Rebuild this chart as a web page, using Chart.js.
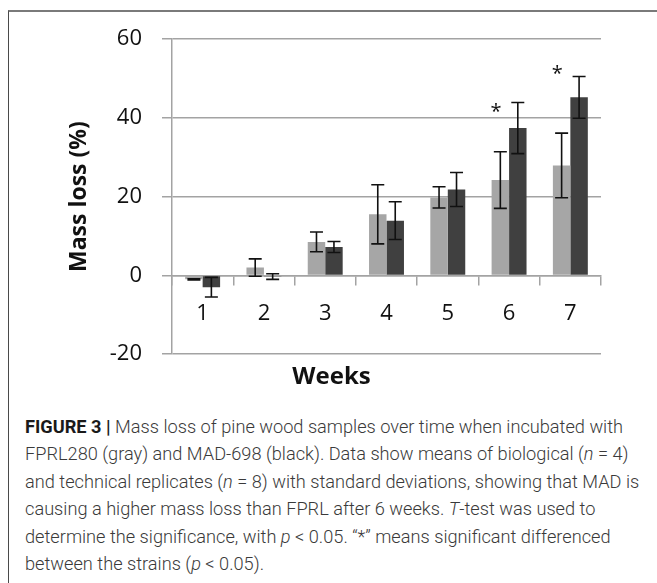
<!DOCTYPE html>
<html>
<head>
<meta charset="utf-8">
<script src="https://cdn.jsdelivr.net/npm/chart.js@4.4.1/dist/chart.umd.min.js"></script>
<style>
    body { margin: 0; background: #fff; width: 657px; height: 583px; overflow: hidden; position: relative; }
    #frame { position: absolute; left: 8px; top: 10px; width: 700px; height: 620px;
             border-top: 2px solid #7a7a7a; border-left: 1.5px solid #4a4a4a; }
    #chart { position: absolute; left: 0; top: 0; }
    #caption { position: absolute; left: 25px; top: 413px; font-family: Roboto, "Liberation Sans", sans-serif;
               font-weight: 300; font-size: 18.2px; line-height: 27.4px; color: #3a3a3a; white-space: nowrap; }
    #caption b { font-weight: 700; color: #1a1a1a; }
</style>
</head>
<body>
<div id="frame"></div>
<canvas id="chart" width="657" height="392"></canvas>
<div id="caption">
<b>FIGURE 3 |</b> Mass loss of pine wood samples over time when incubated with<br>
FPRL280 (gray) and MAD-698 (black). Data show means of biological (<i>n</i> = 4)<br>
and technical replicates (<i>n</i> = 8) with standard deviations, showing that MAD is<br>
causing a higher mass loss than FPRL after 6 weeks. <i>T</i>-test was used to<br>
determine the significance, with <i>p</i> &lt; 0.05. “*” means significant differenced<br>
between the strains (<i>p</i> &lt; 0.05).
</div>
<script>
// البيانات
const weeks = ['1', '2', '3', '4', '5', '6', '7'];
const fprlMean = [-1.0, 2.0, 8.5, 15.5, 19.8, 24.2, 27.9];
const fprlSd = [0.15, 2.2, 2.5, 7.5, 2.7, 7.2, 8.2];
const madMean = [-3.0, -0.3, 7.2, 13.9, 21.8, 37.4, 45.2];
const madSd = [2.5, 0.7, 1.4, 4.8, 4.3, 6.5, 5.3];
const yTicks = [-20, 0, 20, 40, 60];
// مواضع النجوم (أسابيع ذات فرق معنوي)
const sigWeeks = ['6', '7'];
const sigHeights = [42.5, 52];

document.addEventListener('DOMContentLoaded', function() {
    const sdList = [fprlSd, madSd];
    const axisGray = '#a3a3a3';

    // أشرطة الخطأ
    const errorBars = {
        id: 'errorBars',
        afterDatasetsDraw(chart) {
            const ctx = chart.ctx;
            const yScale = chart.scales.y;
            ctx.save();
            ctx.strokeStyle = '#111';
            ctx.lineWidth = 1.6;
            chart.data.datasets.forEach(function(ds, i) {
                const meta = chart.getDatasetMeta(i);
                meta.data.forEach(function(bar, j) {
                    const m = ds.data[j];
                    const sd = sdList[i][j];
                    const yTop = yScale.getPixelForValue(m + sd);
                    const yBot = yScale.getPixelForValue(m - sd);
                    const cap = 6.5;
                    ctx.beginPath();
                    ctx.moveTo(bar.x, yTop);
                    ctx.lineTo(bar.x, yBot);
                    ctx.moveTo(bar.x - cap, yTop);
                    ctx.lineTo(bar.x + cap, yTop);
                    ctx.moveTo(bar.x - cap, yBot);
                    ctx.lineTo(bar.x + cap, yBot);
                    ctx.stroke();
                });
            });
            ctx.restore();
        }
    };

    // النجوم
    const stars = {
        id: 'stars',
        afterDatasetsDraw(chart) {
            const ctx = chart.ctx;
            ctx.save();
            ctx.fillStyle = '#111';
            ctx.font = '20px "Open Sans"';
            ctx.textAlign = 'center';
            ctx.textBaseline = 'middle';
            sigWeeks.forEach(function(w, k) {
                const x = chart.scales.x.getPixelForValue(weeks.indexOf(w)) - 13;
                const y = chart.scales.y.getPixelForValue(sigHeights[k]);
                ctx.fillText('*', x, y + 4);
            });
            ctx.restore();
        }
    };

    const ctx = document.getElementById('chart').getContext('2d');
    new Chart(ctx, {
        type: 'bar',
        data: {
            labels: weeks,
            datasets: [
                { label: 'FPRL280', data: fprlMean, backgroundColor: '#a6a6a6' },
                { label: 'MAD-698', data: madMean, backgroundColor: '#404040' }
            ]
        },
        options: {
            responsive: false,
            animation: false,
            devicePixelRatio: 1,
            categoryPercentage: 0.57,
            barPercentage: 1.0,
            layout: { padding: { left: 62, right: 56, top: 39, bottom: 0 } },
            scales: {
                x: {
                    position: { y: 0 },
                    grid: { display: true, offset: true, drawOnChartArea: false, drawTicks: true,
                            tickLength: 9, color: axisGray, lineWidth: 1.5 },
                    border: { display: true, color: axisGray, width: 1.5 },
                    ticks: { color: '#111', padding: 16, font: { family: 'Open Sans', size: 22 } }
                },
                y: {
                    min: -20,
                    max: 60,
                    afterBuildTicks: function(scale) {
                        scale.ticks = yTicks.map(function(v) { return { value: v }; });
                    },
                    afterFit: function(scale) { scale.width = 110; },
                    grid: { color: axisGray, lineWidth: 1.5, drawTicks: true, tickLength: 10 },
                    border: { display: true, color: axisGray, width: 1.5 },
                    ticks: { color: '#111', padding: 20, font: { family: 'Open Sans', size: 22 } },
                    title: {
                        display: true,
                        text: 'Mass loss (%)',
                        color: '#111',
                        padding: { top: 4, bottom: 4 },
                        font: { family: 'Open Sans', size: 23, weight: 'bold' }
                    }
                }
            },
            plugins: {
                legend: { display: false },
                tooltip: { enabled: false },
                title: {
                    display: true,
                    position: 'bottom',
                    text: 'Weeks',
                    color: '#111',
                    padding: { top: 9, bottom: 0 },
                    font: { family: 'Open Sans', size: 24, weight: 'bold' }
                }
            }
        },
        plugins: [errorBars, stars]
    });
});
</script>
</body>
</html>
